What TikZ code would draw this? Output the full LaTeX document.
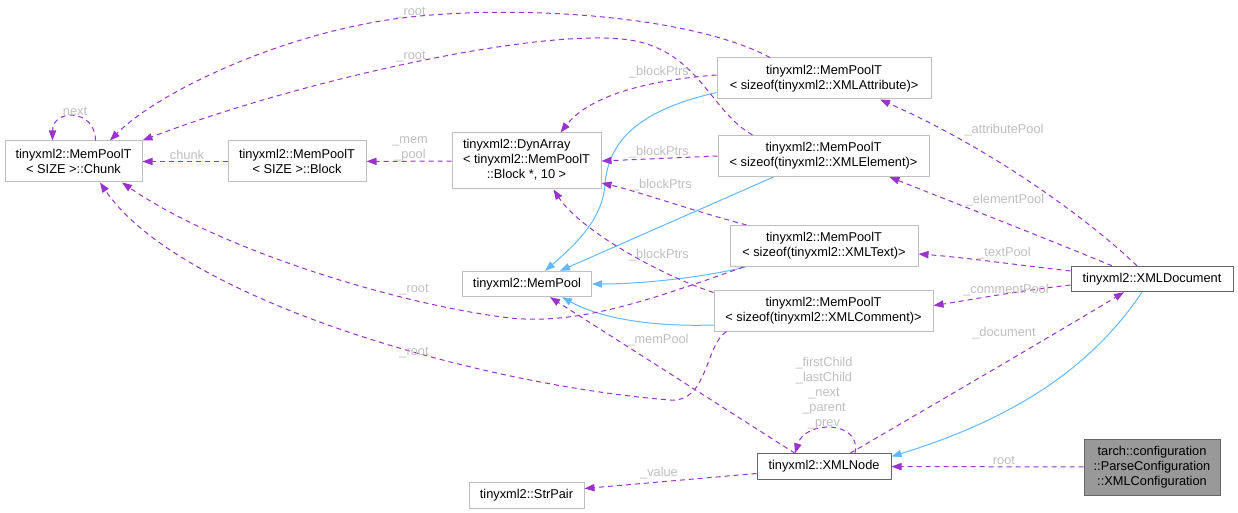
\documentclass[tikz,border=0pt]{standalone}
\usepackage{fontspec}
\setmainfont{Liberation Sans}
\usetikzlibrary{arrows.meta,calc}
\definecolor{EdgeClr}{HTML}{9A32CD}
\definecolor{BaseClr}{HTML}{63B8FF}
\definecolor{LabelClr}{HTML}{BEBEBE}
\definecolor{FrameClr}{HTML}{BFBFBF}
\definecolor{LinkClr}{HTML}{666666}
\definecolor{MainClr}{HTML}{999999}

\begin{document}
\begin{tikzpicture}[x=0.75pt,y=-0.75pt,
  font=\fontsize{9.6}{11.25}\selectfont,
  cls/.style={draw=FrameClr,line width=0.75pt,inner sep=0pt,align=center,minimum height=30.75pt},
  one/.style={cls,minimum height=19pt},
  linked/.style={draw=LinkClr},
  current/.style={cls,draw=LinkClr,fill=MainClr,minimum height=42pt},
  use/.style={EdgeClr,line width=0.75pt,dash pattern=on 3.75pt off 3pt,-{Triangle[length=7.5pt,width=5.5pt]}},
  isa/.style={BaseClr,line width=0.75pt,-{Triangle[length=7.5pt,width=5.5pt]}},
  lbl/.style={text=LabelClr,inner sep=0pt,align=center}]
\useasboundingbox (0,0) rectangle (1238,513);

% classes
\node[cls,minimum width=102.75pt] (chunk) at (73.5,161.5) {tinyxml2::MemPoolT\\< SIZE >::Chunk};
\node[cls,minimum width=103.5pt] (block) at (297,161.5) {tinyxml2::MemPoolT\\< SIZE >::Block};
\node[cls,minimum width=111.75pt,minimum height=42pt] (dyn) at (526.5,161)
  {\begin{tabular}{@{}l@{}}tinyxml2::DynArray\\< tinyxml2::MemPoolT\\\multicolumn{1}{@{}c@{}}{::Block *, 10 >}\end{tabular}};
\node[one,minimum width=96.75pt] (pool) at (527,284) {tinyxml2::MemPool};
\node[cls,minimum width=160.5pt] (attr) at (824,78.5) {tinyxml2::MemPoolT\\< sizeof(tinyxml2::XMLAttribute)>};
\node[cls,minimum width=158.25pt] (elem) at (823.5,156) {tinyxml2::MemPoolT\\< sizeof(tinyxml2::XMLElement)>};
\node[cls,minimum width=141pt] (text) at (824,246) {tinyxml2::MemPoolT\\< sizeof(tinyxml2::XMLText)>};
\node[cls,minimum width=164.25pt] (comm) at (823.5,310.5) {tinyxml2::MemPoolT\\< sizeof(tinyxml2::XMLComment)>};
\node[one,linked,minimum width=121.5pt] (doc) at (1152,279) {tinyxml2::XMLDocument};
\node[one,linked,minimum width=100.5pt] (xnode) at (824,466.5) {tinyxml2::XMLNode};
\node[one,minimum width=86.25pt] (strp) at (526.5,495.5) {tinyxml2::StrPair};
\node[current,minimum width=102pt] (conf) at (1152,467) {tarch::configuration\\::ParseConfiguration\\::XMLConfiguration};

% inheritance
\draw[isa] ($(attr.west)+(0,14)$) .. controls (640,110) and (608,140) .. (605,185)
  .. controls (602,220) and (575,245) .. ($(pool.north)+(18,0)$);
\draw[isa] ($(elem.south)+(-50,0)$) -- ($(pool.north)+(33,0)$);
\draw[isa] ($(text.south west)+(16,0)$) .. controls (700,278) and (640,284) .. (pool.east);
\draw[isa] ($(comm.west)+(0,14.5)$) .. controls (650,327) and (600,318) .. ($(pool.south)+(35,0)$);
\draw[isa] ($(doc.south)+(-10,0)$) .. controls (1090,370) and (1010,420) .. ($(xnode.east)+(0,-10)$);

% members
\draw[use] ($(chunk.north)+(22,0)$) .. controls +(0,-32) and +(0,-32) .. ($(chunk.north)+(-21,0)$);
\draw[use] (block) -- (chunk);
\draw[use] (dyn) -- (block);
\draw[use] ($(attr.north)+(-54,0)$) .. controls (690,15) and (520,5) .. (410,17)
  .. controls (290,30) and (160,90) .. ($(chunk.north)+(36.5,0)$);
\draw[use] ($(elem.north)+(-71,0)$) .. controls (712,112) and (700,57) .. (640,42)
  .. controls (560,22) and (300,80) .. ($(chunk.north)+(69,0)$);
\draw[use] ($(attr.west)+(0,-3.5)$) .. controls (650,80) and (590,95) .. ($(dyn.north)+(34,0)$);
\draw[use] (elem.west) -- (dyn.east);
\draw[use] ($(text.north west)+(17,0)$) .. controls (690,210) and (640,192) .. ($(dyn.east)+(0,22)$);
\draw[use] ($(comm.north west)+(0,3)$) .. controls (660,275) and (580,230) .. ($(dyn.south)+(27,0)$);
\draw[use] ($(text.south west)+(14,0)$) .. controls (650,300) and (580,325) .. (510,318)
  .. controls (400,305) and (220,250) .. ($(chunk.south)+(48.5,0)$);
\draw[use] ($(comm.south west)+(13,0)$) .. controls (705,345) and (708,403) .. (670,400)
  .. controls (480,385) and (180,300) .. ($(chunk.south)+(26.5,0)$);
\draw[use] ($(doc.north)+(-15,0)$) .. controls (1100,230) and (1005,155) .. ($(attr.south)+(56,0)$);
\draw[use] ($(doc.north)+(-40,0)$) .. controls (1050,240) and (960,205) .. ($(elem.south)+(66,0)$);
\draw[use] ($(doc.west)+(0,-8)$) .. controls (1010,264) and (960,257) .. ($(text.east)+(0,8)$);
\draw[use] ($(doc.west)+(0,6)$) .. controls (1010,292) and (970,300) .. ($(comm.east)+(0,-5)$);
\draw[use] ($(xnode.north)+(26,0)$) .. controls (950,395) and (1070,325) .. ($(doc.south)+(-28,0)$);
\draw[use] ($(xnode.north)+(31,0)$) .. controls (862,420) and (805,420) .. ($(xnode.north)+(-29,0)$);
\draw[use] ($(xnode.north)+(-29,0)$) -- ($(pool.south)+(23,0)$);
\draw[use] ($(xnode.west)+(0,7)$) -- ($(strp.east)+(0,-7)$);
\draw[use] (conf) -- (xnode);

% member names
\node[lbl] (lnext) at (75,111) {next};
\node[lbl] (lchunk) at (187,155) {chunk};
\node[lbl] (lmem) at (410,149) {\_mem\\\_pool};
\node[lbl] (lroota) at (411,13) {\_root};
\node[lbl] (lrootb) at (411,57) {\_root};
\node[lbl] (lbpa) at (659,72) {\_blockPtrs};
\node[lbl] (lbpb) at (659,152) {\_blockPtrs};
\node[lbl] (lbpc) at (662,185) {\_blockPtrs};
\node[lbl] (lbpd) at (659,255) {\_blockPtrs};
\node[lbl] (lrootc) at (414,290) {\_root};
\node[lbl] (lrootd) at (414,353) {\_root};
\node[lbl] (lattr) at (1004,130) {\_attributePool};
\node[lbl] (lelem) at (1005,200) {\_elementPool};
\node[lbl] (ltext) at (1004,253) {\_textPool};
\node[lbl] (lcomm) at (1006,290) {\_commentPool};
\node[lbl] (ldoc) at (1004,333) {\_document};
\node[lbl] (lmpool) at (658,340) {\_memPool};
\node[lbl] (lkids) at (824,393) {\_firstChild\\\_lastChild\\\_next\\\_parent\\\_prev};
\node[lbl] (lval) at (659,473) {\_value};
\node[lbl] (lroot) at (1004,460) {root};

\end{tikzpicture}
\end{document}
